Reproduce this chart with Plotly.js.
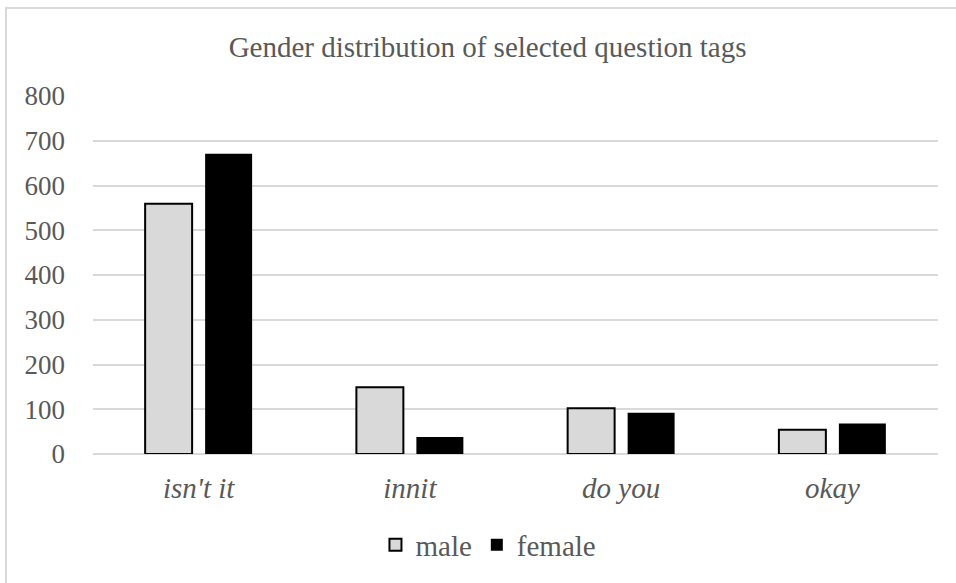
<!DOCTYPE html>
<html>
<head>
<meta charset="utf-8">
<script src="https://cdn.plot.ly/plotly-3.0.1.min.js"></script>
<style>
html,body{margin:0;padding:0;background:#fff;overflow:hidden;}
#wrap{position:relative;width:956px;height:583px;overflow:hidden;}
#chart{width:956px;height:583px;}
#frame{position:absolute;left:5px;top:7px;width:980px;height:600px;border:2px solid #d9d9d9;pointer-events:none;}
</style>
</head>
<body>
<div id="wrap"><div id="chart"></div><div id="frame"></div></div>
<script>
var categories = ["isn't it", "innit", "do you", "okay"];
var maleValues = [559, 149, 102, 54];
var femaleValues = [671, 38, 92, 68];
var yTicks = [0, 100, 200, 300, 400, 500, 600, 700, 800];

var FONT = "'Liberation Serif', 'Times New Roman', serif";
var TXT = "#595959";

var traces = [
  {type: "bar", name: "male", x: categories, y: maleValues,
   marker: {color: "#d9d9d9", line: {color: "#000000", width: 2}}},
  {type: "bar", name: "female", x: categories, y: femaleValues,
   marker: {color: "#000000", line: {color: "#000000", width: 0}}}
];

var layout = {
  width: 956, height: 583,
  margin: {l: 93, r: 18, t: 96, b: 129},
  paper_bgcolor: "#ffffff", plot_bgcolor: "#ffffff",
  font: {family: FONT, color: TXT, size: 26},
  title: {text: "Gender distribution of selected question tags",
          font: {family: FONT, size: 29, color: TXT},
          x: 0.51, xanchor: "center", y: 0.92, yanchor: "middle"},
  barmode: "group", bargap: 0.432, bargroupgap: 0.217,
  showlegend: true,
  legend: {orientation: "h", x: 0.468, xanchor: "center", y: -0.254, yanchor: "middle",
           font: {family: FONT, size: 29, color: TXT}, itemwidth: 30, traceorder: "normal"},
  xaxis: {tickvals: categories, ticktext: categories.map(function(c){return "<i>" + c + "</i>";}),
          tickfont: {family: FONT, size: 29, color: TXT}, showline: false, ticks: "",
          showgrid: false, zeroline: false, fixedrange: true, ticklabelstandoff: 14},
  yaxis: {range: [0, 800], tickvals: yTicks, ticktext: yTicks.map(String),
          tickfont: {family: FONT, size: 27, color: TXT}, gridcolor: "#d9d9d9", gridwidth: 2,
          zeroline: true, zerolinecolor: "#d9d9d9", zerolinewidth: 2, showline: false,
          ticks: "", ticklabelstandoff: 27, fixedrange: true}
};

Plotly.newPlot("chart", traces, layout, {displayModeBar: false, staticPlot: true});
</script>
</body>
</html>
